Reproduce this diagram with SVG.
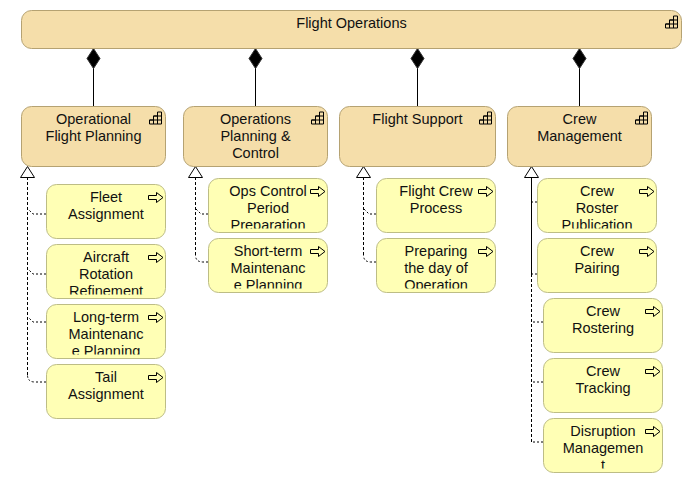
<svg xmlns="http://www.w3.org/2000/svg" xmlns:xlink="http://www.w3.org/1999/xlink" width="692" height="483" viewBox="0 0 692 483">
<style>
text{font-family:"Liberation Sans",Arial,sans-serif;font-size:14.5px;fill:#111;text-anchor:middle}
.func{fill:#f5deaa;stroke:#b5a272;stroke-width:1}
.proc{fill:#ffffb5;stroke:#bdbd85;stroke-width:1}
.icon{fill:none;stroke:#000;stroke-width:1}
.comp{fill:none;stroke:#000;stroke-width:1}
.dia{fill:#000;stroke:#333;stroke-width:1}
.tri{fill:#fff;stroke:#000;stroke-width:1}
.real{fill:none;stroke:#000;stroke-width:1;stroke-dasharray:3 2}
.branch{fill:none;stroke:#000;stroke-width:1;stroke-dasharray:2 2}
</style>
<defs>
<g id="stairs" class="icon"><path d="M0 12.5V8.5H4V4.5H8V0.5H12V12.5ZM0 8.5H12M4 4.5H12M4 4.5V12.5M8 4.5V12.5"/></g>
<g id="arrow" class="icon"><path d="M0 3H8V0L14.5 5L8 10V7H0Z"/></g>
<clipPath id="cut" clipPathUnits="userSpaceOnUse"><rect x="0" y="0" width="119" height="50"/></clipPath>
</defs>
<g id="connectors">
<path class="comp" d="M93.5 68V106M255.5 68V106M417.5 68V106M579.5 68V106"/>
<path class="dia" d="M93.5 48.5L100 58.5L93.5 68.5L87 58.5Z"/>
<path class="dia" d="M255.5 48.5L262 58.5L255.5 68.5L249 58.5Z"/>
<path class="dia" d="M417.5 48.5L424 58.5L417.5 68.5L411 58.5Z"/>
<path class="dia" d="M579.5 48.5L586 58.5L579.5 68.5L573 58.5Z"/>
<path class="real" d="M27.5 177V375"/>
<path class="branch" d="M46 214H33L28 209"/>
<path class="branch" d="M46 274H33L28 269"/>
<path class="branch" d="M46 322H33L28 317"/>
<path class="branch" d="M46 382H35Q27.5 382 27.5 375"/>
<path class="tri" d="M27.5 166.5L34.5 177.5H20.5Z"/>
<path class="real" d="M195.5 177V255"/>
<path class="branch" d="M208 214H201L196 209"/>
<path class="branch" d="M208 262H203Q195.5 262 195.5 255"/>
<path class="tri" d="M195.5 166.5L202.5 177.5H188.5Z"/>
<path class="real" d="M363.5 177V255"/>
<path class="branch" d="M376 214H369L364 209"/>
<path class="branch" d="M376 262H371Q363.5 262 363.5 255"/>
<path class="tri" d="M363.5 166.5L370.5 177.5H356.5Z"/>
<path class="comp" d="M531.5 177V274"/>
<path class="real" d="M531.5 274V442"/>
<path class="branch" d="M537 202H532"/>
<path class="branch" d="M537 274H532"/>
<path class="branch" d="M543 322H532"/>
<path class="branch" d="M543 382H532"/>
<path class="branch" d="M543 442H532"/>
<path class="tri" d="M531.5 166.5L538.5 177.5H524.5Z"/>
</g>
<g id="flight-operations" transform="translate(21.5,10.5)">
<rect class="func" width="660" height="38" rx="10"/>
<text x="330" y="17.5">Flight Operations</text>
<use href="#stairs" x="644" y="5"/>
</g>
<g id="operational-flight-planning" transform="translate(21.5,106.5)">
<rect class="func" width="144" height="60" rx="10"/>
<text x="72" y="17.5">Operational</text><text x="72" y="34.5">Flight Planning</text>
<use href="#stairs" x="128" y="5"/>
</g>
<g id="operations-planning-control" transform="translate(183.5,106.5)">
<rect class="func" width="144" height="60" rx="10"/>
<text x="72" y="17.5">Operations</text><text x="72" y="34.5">Planning &amp;</text><text x="72" y="51.5">Control</text>
<use href="#stairs" x="128" y="5"/>
</g>
<g id="flight-support" transform="translate(339.5,106.5)">
<rect class="func" width="156" height="60" rx="10"/>
<text x="78" y="17.5">Flight Support</text>
<use href="#stairs" x="140" y="5"/>
</g>
<g id="crew-management" transform="translate(507.5,106.5)">
<rect class="func" width="144" height="60" rx="10"/>
<text x="72" y="17.5">Crew</text><text x="72" y="34.5">Management</text>
<use href="#stairs" x="128" y="5"/>
</g>
<g id="fleet-assignment" transform="translate(46.5,184.5)">
<rect class="proc" width="119" height="54" rx="10"/>
<g clip-path="url(#cut)"><text x="59.5" y="17.5">Fleet</text><text x="59.5" y="34.5">Assignment</text></g>
<use href="#arrow" x="102" y="8"/>
</g>
<g id="aircraft-rotation-refinement" transform="translate(46.5,244.5)">
<rect class="proc" width="119" height="54" rx="10"/>
<g clip-path="url(#cut)"><text x="59.5" y="17.5">Aircraft</text><text x="59.5" y="34.5">Rotation</text><text x="59.5" y="51.5">Refinement</text></g>
<use href="#arrow" x="102" y="8"/>
</g>
<g id="long-term-maintenance-planning" transform="translate(46.5,304.5)">
<rect class="proc" width="119" height="54" rx="10"/>
<g clip-path="url(#cut)"><text x="59.5" y="17.5">Long-term</text><text x="59.5" y="34.5">Maintenanc</text><text x="59.5" y="51.5">e Planning</text></g>
<use href="#arrow" x="102" y="8"/>
</g>
<g id="tail-assignment" transform="translate(46.5,364.5)">
<rect class="proc" width="119" height="54" rx="10"/>
<g clip-path="url(#cut)"><text x="59.5" y="17.5">Tail</text><text x="59.5" y="34.5">Assignment</text></g>
<use href="#arrow" x="102" y="8"/>
</g>
<g id="ops-control-period-preparation" transform="translate(208.5,178.5)">
<rect class="proc" width="119" height="54" rx="10"/>
<g clip-path="url(#cut)"><text x="59.5" y="17.5">Ops Control</text><text x="59.5" y="34.5">Period</text><text x="59.5" y="51.5">Preparation</text></g>
<use href="#arrow" x="102" y="8"/>
</g>
<g id="short-term-maintenance-planning" transform="translate(208.5,238.5)">
<rect class="proc" width="119" height="54" rx="10"/>
<g clip-path="url(#cut)"><text x="59.5" y="17.5">Short-term</text><text x="59.5" y="34.5">Maintenanc</text><text x="59.5" y="51.5">e Planning</text></g>
<use href="#arrow" x="102" y="8"/>
</g>
<g id="flight-crew-process" transform="translate(376.5,178.5)">
<rect class="proc" width="119" height="54" rx="10"/>
<g clip-path="url(#cut)"><text x="59.5" y="17.5">Flight Crew</text><text x="59.5" y="34.5">Process</text></g>
<use href="#arrow" x="102" y="8"/>
</g>
<g id="preparing-day-of-operation" transform="translate(376.5,238.5)">
<rect class="proc" width="119" height="54" rx="10"/>
<g clip-path="url(#cut)"><text x="59.5" y="17.5">Preparing</text><text x="59.5" y="34.5">the day of</text><text x="59.5" y="51.5">Operation</text></g>
<use href="#arrow" x="102" y="8"/>
</g>
<g id="crew-roster-publication" transform="translate(537.5,178.5)">
<rect class="proc" width="119" height="54" rx="10"/>
<g clip-path="url(#cut)"><text x="59.5" y="17.5">Crew</text><text x="59.5" y="34.5">Roster</text><text x="59.5" y="51.5">Publication</text></g>
<use href="#arrow" x="102" y="8"/>
</g>
<g id="crew-pairing" transform="translate(537.5,238.5)">
<rect class="proc" width="119" height="54" rx="10"/>
<g clip-path="url(#cut)"><text x="59.5" y="17.5">Crew</text><text x="59.5" y="34.5">Pairing</text></g>
<use href="#arrow" x="102" y="8"/>
</g>
<g id="crew-rostering" transform="translate(543.5,298.5)">
<rect class="proc" width="119" height="54" rx="10"/>
<g clip-path="url(#cut)"><text x="59.5" y="17.5">Crew</text><text x="59.5" y="34.5">Rostering</text></g>
<use href="#arrow" x="102" y="8"/>
</g>
<g id="crew-tracking" transform="translate(543.5,358.5)">
<rect class="proc" width="119" height="54" rx="10"/>
<g clip-path="url(#cut)"><text x="59.5" y="17.5">Crew</text><text x="59.5" y="34.5">Tracking</text></g>
<use href="#arrow" x="102" y="8"/>
</g>
<g id="disruption-management" transform="translate(543.5,418.5)">
<rect class="proc" width="119" height="54" rx="10"/>
<g clip-path="url(#cut)"><text x="59.5" y="17.5">Disruption</text><text x="59.5" y="34.5">Managemen</text><text x="59.5" y="51.5">t</text></g>
<use href="#arrow" x="102" y="8"/>
</g>
</svg>
